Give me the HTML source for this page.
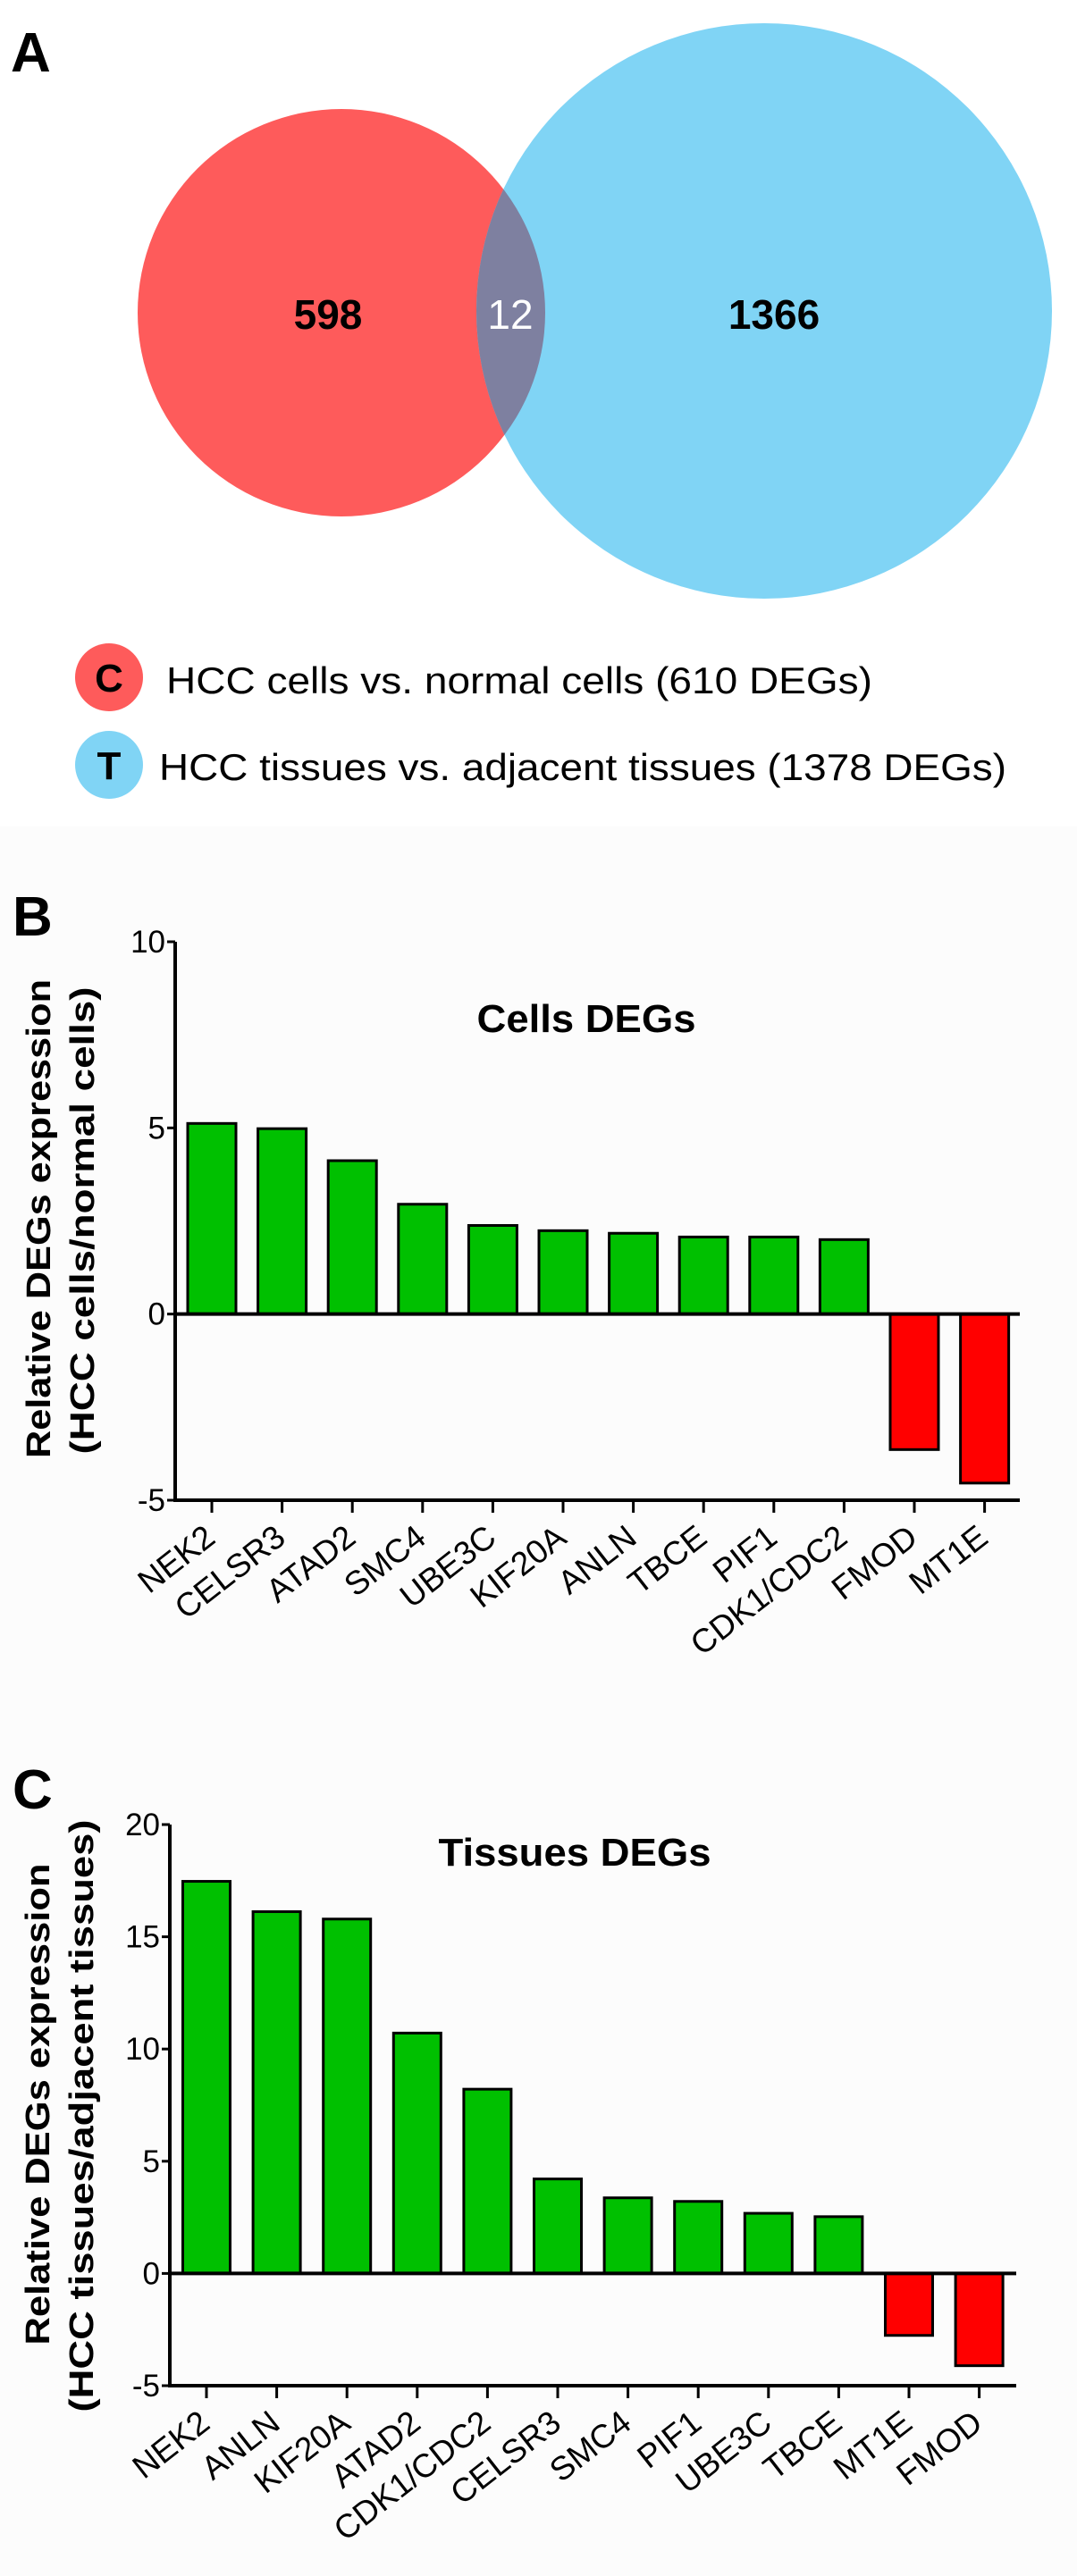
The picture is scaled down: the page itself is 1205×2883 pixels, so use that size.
<!DOCTYPE html>
<html><head><meta charset="utf-8">
<style>
html,body{margin:0;padding:0;background:#fff;}
svg{display:block;font-family:"Liberation Sans",Arial,sans-serif;}
</style></head>
<body>
<svg id="fig" width="1205" height="2883" viewBox="0 0 1205 2883" xmlns="http://www.w3.org/2000/svg">
  <rect x="0" y="0" width="1205" height="2883" fill="#ffffff"/>
  <rect x="0" y="925" width="1205" height="1958" fill="#fcfcfc"/>
  <text x="12" y="80" font-size="62" font-weight="bold">A</text>
  <g>
    <circle cx="382" cy="350" r="228" fill="#fe5b5b"/>
    <circle cx="855" cy="348" r="322" fill="#80d4f5"/>
    <clipPath id="clipRed"><circle cx="382" cy="350" r="228"/></clipPath>
    <circle cx="855" cy="348" r="322" fill="#7e80a0" clip-path="url(#clipRed)"/>
    <text x="367" y="368" font-size="46" font-weight="bold" text-anchor="middle">598</text>
    <text x="571" y="368" font-size="46" fill="#ffffff" text-anchor="middle">12</text>
    <text x="866" y="368" font-size="46" font-weight="bold" text-anchor="middle">1366</text>
  </g>
  <g>
    <circle cx="122" cy="758" r="38" fill="#fe5b5b"/>
    <text x="122" y="774" font-size="44" font-weight="bold" text-anchor="middle">C</text>
    <text x="186" y="776" font-size="42" textLength="790" lengthAdjust="spacingAndGlyphs">HCC cells vs. normal cells (610 DEGs)</text>
    <circle cx="122" cy="856" r="38" fill="#80d4f5"/>
    <text x="122" y="872" font-size="44" font-weight="bold" text-anchor="middle">T</text>
    <text x="178" y="873" font-size="42" textLength="948" lengthAdjust="spacingAndGlyphs">HCC tissues vs. adjacent tissues (1378 DEGs)</text>
  </g>
  <text x="14" y="1047" font-size="62" font-weight="bold">B</text>
  <text x="14" y="2024" font-size="62" font-weight="bold">C</text>
  <g id="chartB"></g>
  <g id="chartC"></g>
</svg>
<script>
const cellsCategories = ["NEK2","CELSR3","ATAD2","SMC4","UBE3C","KIF20A","ANLN","TBCE","PIF1","CDK1/CDC2","FMOD","MT1E"];
const cellsValues = [5.12,4.98,4.12,2.95,2.38,2.24,2.17,2.07,2.07,2.0,-3.64,-4.54];
const cellsTicks = [10,5,0,-5];
const tissuesCategories = ["NEK2","ANLN","KIF20A","ATAD2","CDK1/CDC2","CELSR3","SMC4","PIF1","UBE3C","TBCE","MT1E","FMOD"];
const tissuesValues = [17.47,16.12,15.79,10.71,8.21,4.21,3.37,3.21,2.68,2.53,-2.76,-4.11];
const tissuesTicks = [20,15,10,5,0,-5];

const NS = "http://www.w3.org/2000/svg";
function mk(parent, tag, attrs){
  const e = document.createElementNS(NS, tag);
  for (const k in attrs) e.setAttribute(k, attrs[k]);
  parent.appendChild(e);
  return e;
}
function drawChart(g, cfg){
  const yScale = v => cfg.y0 + (v - cfg.vmin) / (cfg.vmax - cfg.vmin) * (cfg.y1 - cfg.y0);
  const xScale = i => cfg.firstX + i * cfg.step;
  cfg.values.forEach((v, i) => {
    const y0 = yScale(0), yv = yScale(v);
    const r = mk(g, "rect", {x: xScale(i) - cfg.barW/2, y: Math.min(y0, yv), width: cfg.barW, height: Math.abs(yv - y0),
      fill: v >= 0 ? "#00c000" : "#ff0000", stroke: "#000", "stroke-width": 3});
    
    
  });
  const zl = mk(g, "line", {x1: cfg.axisX, x2: cfg.axisRight, y1: yScale(0), y2: yScale(0), stroke: "#000", "stroke-width": 4});
  
  
  const ya = mk(g, "line", {x1: cfg.axisX, x2: cfg.axisX, y1: yScale(cfg.vmax), y2: yScale(cfg.vmin) + 2, stroke: "#000", "stroke-width": 4});
  
  
  const xa = mk(g, "line", {x1: cfg.axisX - 2, x2: cfg.axisRight, y1: yScale(cfg.vmin), y2: yScale(cfg.vmin), stroke: "#000", "stroke-width": 4});
  
  
  cfg.ticks.forEach(t => {
    const y = yScale(t);
    const tl = mk(g, "line", {x1: cfg.axisX - 9, x2: cfg.axisX, y1: y, y2: y, stroke: "#000", "stroke-width": 3});
    
    
    const tx = mk(g, "text", {x: cfg.axisX - 11, y: y + 12, "font-size": 35, "text-anchor": "end"});
    tx.textContent = t;
    
    
  });
  cfg.cats.forEach((c, i) => {
    const x = xScale(i), yb = yScale(cfg.vmin);
    const tl = mk(g, "line", {x1: x, x2: x, y1: yb, y2: yb + 14, stroke: "#000", "stroke-width": 3});
    
    
    const ax = x + 6, ay = yb + 46;
    const tx = mk(g, "text", {x: ax, y: ay, "font-size": 37, "text-anchor": "end",
      transform: "rotate(-38 " + ax + " " + ay + ")"});
    tx.textContent = c;
    
    
  });
  const title = mk(g, "text", {x: cfg.titleX, y: cfg.titleY, "font-size": 44, "font-weight": "bold", "text-anchor": "middle",
    textLength: cfg.titleLen, lengthAdjust: "spacingAndGlyphs"});
  title.textContent = cfg.title;
  
  
  const t1 = mk(g, "text", {x: cfg.yTitleX1, y: cfg.yTitleY1, "font-size": 38, "font-weight": "bold", "text-anchor": "middle",
    textLength: cfg.yLen1, lengthAdjust: "spacingAndGlyphs", transform: "rotate(-90 " + cfg.yTitleX1 + " " + cfg.yTitleY1 + ")"});
  t1.textContent = "Relative DEGs expression";
  
  
  const t2 = mk(g, "text", {x: cfg.yTitleX2, y: cfg.yTitleY2, "font-size": 38, "font-weight": "bold", "text-anchor": "middle",
    textLength: cfg.yLen2, lengthAdjust: "spacingAndGlyphs", transform: "rotate(-90 " + cfg.yTitleX2 + " " + cfg.yTitleY2 + ")"});
  t2.textContent = cfg.yTitle2;
  
  
}
drawChart(document.getElementById("chartB"), {
  cats: cellsCategories, values: cellsValues, ticks: cellsTicks,
  vmin: -5, vmax: 10, y0: 1679, y1: 1054, axisX: 196, axisRight: 1141,
  firstX: 237, step: 78.6, barW: 54, title: "Cells DEGs", titleX: 656, titleY: 1155, titleLen: 245,
  yTitleX1: 56, yTitleY1: 1364, yLen1: 536, yTitleX2: 105, yTitleY2: 1366, yLen2: 523,
  yTitle2: "(HCC cells/normal cells)"
});
drawChart(document.getElementById("chartC"), {
  cats: tissuesCategories, values: tissuesValues, ticks: tissuesTicks,
  vmin: -5, vmax: 20, y0: 2670, y1: 2042, axisX: 190, axisRight: 1137,
  firstX: 231, step: 78.6, barW: 53, title: "Tissues DEGs", titleX: 643, titleY: 2088, titleLen: 305,
  yTitleX1: 55, yTitleY1: 2355, yLen1: 539, yTitleX2: 104, yTitleY2: 2368, yLen2: 663,
  yTitle2: "(HCC tissues/adjacent tissues)"
});
</script>
</body></html>
